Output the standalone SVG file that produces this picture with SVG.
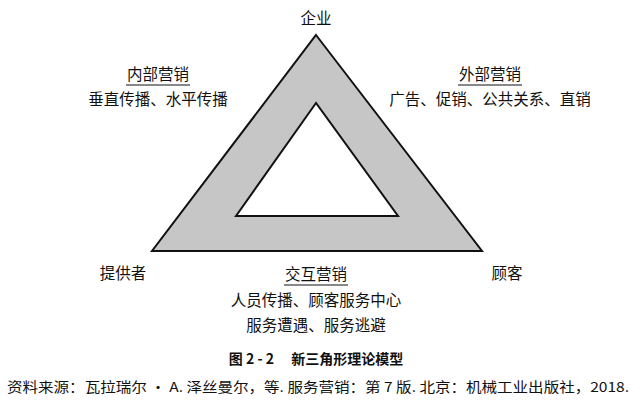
<svg xmlns="http://www.w3.org/2000/svg" width="642" height="405" viewBox="0 0 642 405">
<style>
text{font-family:"Noto Sans CJK SC","Liberation Sans",sans-serif;fill:#111;text-anchor:middle}
.l{font-size:15.5px}
.u{stroke:#111;stroke-width:1}
</style>
<rect width="642" height="405" fill="#fff"/>
<g id="triangle">
<path d="M316,35 L482,251 L152,251 Z M316,103 L236,216 L398,216 Z" fill="#c6c6c6" fill-rule="evenodd" stroke="#111" stroke-width="2"/>
</g>
<g id="connectors"></g>
<g id="enterprise"><text class="l" x="316" y="24">企业</text></g>
<g id="internal"><text class="l" x="158" y="80">内部营销</text><line class="u" x1="126" y1="85" x2="190" y2="85"/><text class="l" x="158" y="105">垂直传播、水平传播</text></g>
<g id="external"><text class="l" x="490" y="80">外部营销</text><line class="u" x1="458" y1="85" x2="522" y2="85"/><text class="l" x="490" y="105">广告、促销、公共关系、直销</text></g>
<g id="provider"><text class="l" x="123" y="279">提供者</text></g>
<g id="customer"><text class="l" x="507" y="279">顾客</text></g>
<g id="interactive"><text class="l" x="316" y="280">交互营销</text><line class="u" x1="284" y1="285" x2="348" y2="285"/><text class="l" x="316" y="306">人员传播、顾客服务中心</text><text class="l" x="316" y="331">服务遭遇、服务逃避</text></g>
<text x="316" y="364" font-size="14" font-weight="bold">图 2 - 2　 新三角形理论模型</text>
<text x="318" y="392" font-size="13.5" textLength="622" lengthAdjust="spacingAndGlyphs">资料来源：瓦拉瑞尔 · A. 泽丝曼尔，等. 服务营销：第 7 版. 北京：机械工业出版社，2018.</text>
</svg>
